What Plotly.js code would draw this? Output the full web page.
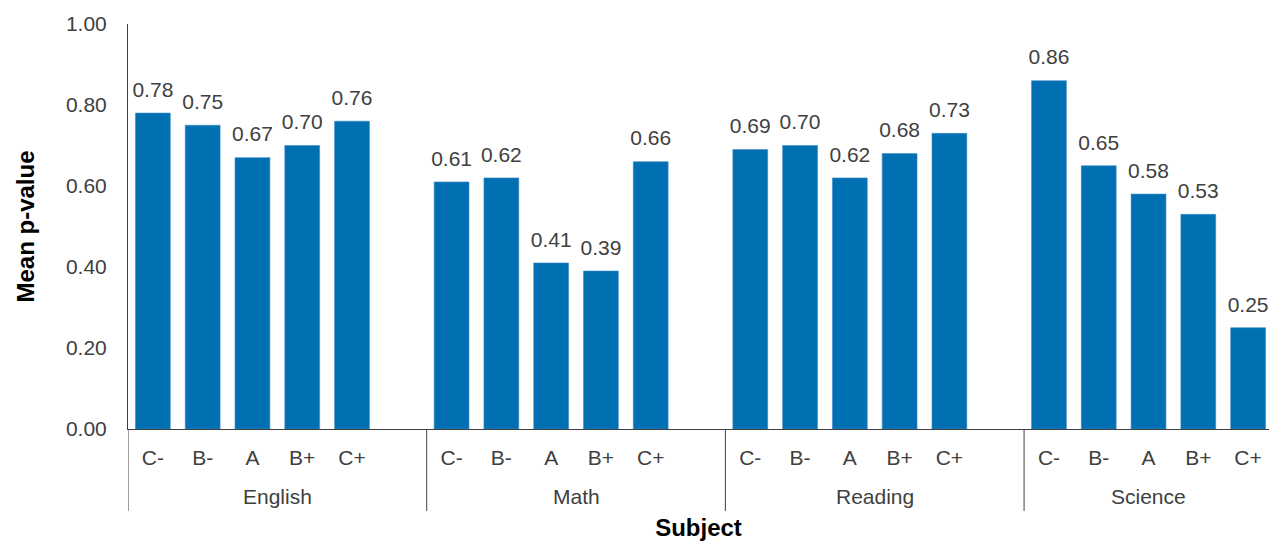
<!DOCTYPE html>
<html>
<head>
<meta charset="utf-8">
<script src="https://cdn.plot.ly/plotly-3.0.1.min.js"></script>
<style>html,body{margin:0;padding:0;background:#fff;}#chart{width:1269px;height:544px;}</style>
</head>
<body>
<div id="chart"></div>
<script>
const subjects = ["English", "Math", "Reading", "Science"];
const grades = ["C-", "B-", "A", "B+", "C+"];
const english = [0.78, 0.75, 0.67, 0.70, 0.76];
const math = [0.61, 0.62, 0.41, 0.39, 0.66];
const reading = [0.69, 0.70, 0.62, 0.68, 0.73];
const science = [0.86, 0.65, 0.58, 0.53, 0.25];
const seriesBySubject = [english, math, reading, science];

// Slot indices: each subject group has its grades followed by one empty slot (except the last group)
const slot = grades.length + 1;
const xIdx = [], yVals = [], tickText = [];
const groupCenters = [], groupStarts = [];
subjects.forEach((s, si) => {
  const start = si * slot;
  groupStarts.push(start - 0.5);
  const nSlots = si < subjects.length - 1 ? slot : grades.length;
  groupCenters.push(start + (nSlots - 1) / 2);
  grades.forEach((g, gi) => {
    xIdx.push(start + gi);
    yVals.push(seriesBySubject[si][gi]);
    tickText.push(g);
  });
});

const FONT = "Liberation Sans, Arial, sans-serif";
const labelFont = {family: FONT, size: 21, color: "#404040"};
const titleFont = {family: FONT, size: 24, color: "#000", weight: "bold"};

const bars = {
  type: "bar",
  x: xIdx,
  y: yVals,
  width: 0.7,
  marker: {color: "#0070b3", line: {color: "#3a8cc4", width: 0.6}},
  hoverinfo: "skip"
};
const labels = {
  type: "scatter",
  mode: "markers+text",
  x: xIdx,
  y: yVals,
  text: yVals.map(v => v.toFixed(2)),
  textposition: "top center",
  textfont: labelFont,
  marker: {size: 16, color: "rgba(0,0,0,0)"},
  hoverinfo: "skip",
  cliponaxis: false
};

const annotations = subjects.map((s, i) => ({
  text: s, x: groupCenters[i], xref: "x",
  y: 0, yref: "paper", yanchor: "middle", yshift: -67,
  showarrow: false, font: labelFont
}));

const shapes = groupStarts.map(x0 => ({
  type: "line", xref: "x", yref: "paper",
  x0: x0, x1: x0, y0: 0, y1: -0.2025,
  line: {color: "#404040", width: 1}
}));

const layout = {
  width: 1269, height: 544,
  margin: {l: 128, r: 0, t: 24, b: 115},
  paper_bgcolor: "#fff", plot_bgcolor: "#fff",
  showlegend: false,
  font: labelFont,
  annotations: annotations,
  shapes: shapes,
  xaxis: {
    range: [-0.5, 22.42],
    tickvals: xIdx, ticktext: tickText,
    showline: true, linecolor: "#404040", linewidth: 1,
    ticks: "", showgrid: false, zeroline: false,
    ticklabelstandoff: 10,
    tickfont: labelFont,
    title: {text: "Subject", font: titleFont, standoff: 50}
  },
  yaxis: {
    range: [0, 1.0],
    tickvals: [0, 0.2, 0.4, 0.6, 0.8, 1.0],
    tickformat: ".2f",
    showline: true, linecolor: "#404040", linewidth: 1,
    ticks: "", showgrid: false, zeroline: false,
    ticklabelstandoff: 16,
    tickfont: labelFont,
    title: {text: "Mean p-value", font: titleFont, standoff: 24}
  }
};

Plotly.newPlot("chart", [bars, labels], layout, {displayModeBar: false, staticPlot: true});
</script>
</body>
</html>
